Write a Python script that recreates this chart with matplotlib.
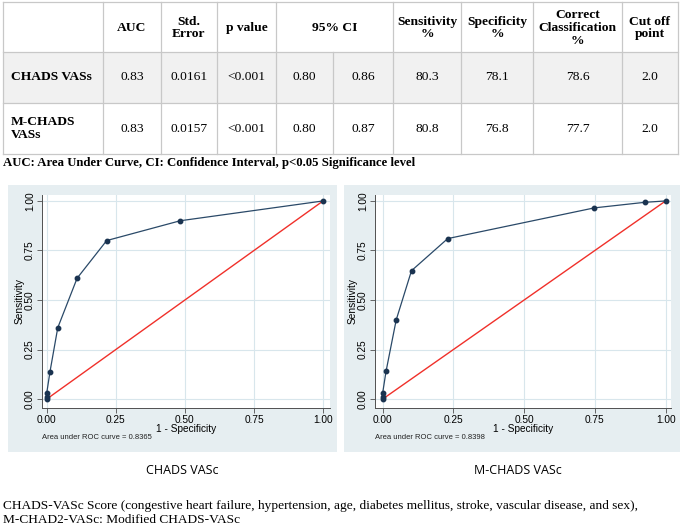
import numpy as np
import matplotlib
matplotlib.use("Agg")
import matplotlib.pyplot as plt
from matplotlib.patches import Rectangle

# ---- table data ----
header = ["", "AUC", "Std.\nError", "p value", "95% CI", "", "Sensitivity\n%",
          "Specificity\n%", "Correct\nClassification\n%", "Cut off\npoint"]
row_names = ["CHADS VASs", "M-CHADS\nVASs"]
auc = ["0.83", "0.83"]
std_err = ["0.0161", "0.0157"]
p_val = ["<0.001", "<0.001"]
ci_low = ["0.80", "0.80"]
ci_high = ["0.86", "0.87"]
sens = ["80.3", "80.8"]
spec = ["78.1", "76.8"]
correct = ["78.6", "77.7"]
cutoff = ["2.0", "2.0"]

footnote = "AUC: Area Under Curve, CI: Confidence Interval, p<0.05 Significance level"
caption = ("CHADS-VASc Score (congestive heart failure, hypertension, age, diabetes mellitus, "
           "stroke, vascular disease, and sex),\nM-CHAD2-VASc: Modified CHADS-VASc")

# ---- ROC data ----
chads_fpr = [0.0, 0.0, 0.0, 0.012, 0.040, 0.110, 0.217, 0.483, 1.0]
chads_tpr = [0.0, 0.008, 0.029, 0.139, 0.360, 0.610, 0.800, 0.900, 1.0]
chads_auc = "0.8365"

mchads_fpr = [0.0, 0.0, 0.0, 0.012, 0.048, 0.102, 0.230, 0.748, 0.926, 1.0]
mchads_tpr = [0.0, 0.010, 0.030, 0.140, 0.400, 0.648, 0.810, 0.965, 0.993, 1.0]
mchads_auc = "0.8398"

W, H = 685, 529
fig = plt.figure(figsize=(W / 100, H / 100), dpi=100)
bg = fig.add_axes([0, 0, 1, 1])
bg.set_xlim(0, W)
bg.set_ylim(H, 0)
bg.axis("off")

serif = "Liberation Serif"
sans = "Liberation Sans"

# table geometry (pixels)
col_x = [3, 103, 161, 217, 276, 333, 393, 461, 533, 622, 678]
row_y = [2, 52, 103, 154]
line_c = "#c8c8c8"

bg.add_patch(Rectangle((col_x[0], row_y[1]), col_x[-1] - col_x[0], row_y[2] - row_y[1],
                       facecolor="#f1f1f1", edgecolor="none", zorder=0))
for y in row_y:
    bg.plot([col_x[0], col_x[-1]], [y, y], color=line_c, lw=0.9)
for i, x in enumerate(col_x):
    if i == 5:
        bg.plot([x, x], [row_y[1], row_y[-1]], color=line_c, lw=0.9)
    else:
        bg.plot([x, x], [row_y[0], row_y[-1]], color=line_c, lw=0.9)

hy = (row_y[0] + row_y[1]) / 2 + 1
for i, t in enumerate(header):
    if not t:
        continue
    if i == 4:
        cx = (col_x[4] + col_x[6]) / 2
    else:
        cx = (col_x[i] + col_x[i + 1]) / 2
    bg.text(cx, hy, t, ha="center", va="center", fontsize=9.7, fontweight="bold",
            family=serif, linespacing=1.1)

cols = [auc, std_err, p_val, ci_low, ci_high, sens, spec, correct, cutoff]
for r in range(2):
    cy = (row_y[r + 1] + row_y[r + 2]) / 2
    bg.text(col_x[0] + 8, cy, row_names[r], ha="left", va="center", fontsize=9.7,
            fontweight="bold", family=serif, linespacing=1.15)
    for c, vals in enumerate(cols):
        cx = (col_x[c + 1] + col_x[c + 2]) / 2
        bg.text(cx, cy, vals[r], ha="center", va="center", fontsize=9.7, family=serif)

bg.text(3, 163, footnote, ha="left", va="center", fontsize=9.2, fontweight="bold", family=serif)
bg.text(3, 513, caption, ha="left", va="center", fontsize=9.6, family=serif, linespacing=1.15)

# grey graph regions
panel_c = "#e6eef1"
bg.add_patch(Rectangle((8, 185), 329, 267, facecolor=panel_c, edgecolor="none"))
bg.add_patch(Rectangle((344, 185), 336, 267, facecolor=panel_c, edgecolor="none"))
bg.text(182, 470, "CHADS VASc", ha="center", va="center", fontsize=9, family="Open Sans")
bg.text(518, 470, "M-CHADS VASc", ha="center", va="center", fontsize=9, family="Open Sans")


def roc_panel(rect, fpr, tpr, auc_txt, xlim):
    ax = fig.add_axes(rect)
    ax.set_facecolor("white")
    ax.set_xlim(*xlim)
    ax.set_ylim(-0.045, 1.03)
    ticks = [0, 0.25, 0.5, 0.75, 1.0]
    ax.set_xticks(ticks)
    ax.set_yticks(ticks)
    ax.set_xticklabels(["%.2f" % t for t in ticks], fontsize=7.3, family=sans)
    ax.set_yticklabels(["%.2f" % t for t in ticks], fontsize=7.3, family=sans,
                       rotation=90, va="center")
    ax.grid(True, color="#d8e6ec", lw=0.8)
    ax.set_axisbelow(True)
    for s in ["top", "right"]:
        ax.spines[s].set_visible(False)
    for s in ["left", "bottom"]:
        ax.spines[s].set_color("#505050")
        ax.spines[s].set_linewidth(0.7)
    ax.tick_params(length=3.5, width=0.6, color="#505050", pad=1.5)
    ax.plot([0, 1], [0, 1], color="#f0302a", lw=1.0, zorder=2)
    ax.plot(fpr, tpr, color="#2a4968", lw=0.9, marker="o", ms=3.2,
            mfc="#1a3350", mec="#1a3350", zorder=3)
    ax.set_xlabel("1 - Specificity", fontsize=7.3, family=sans, labelpad=-1)
    ax.set_ylabel("Sensitivity", fontsize=7.3, family=sans, labelpad=0)
    ax.text(0.0, -0.14, "Area under ROC curve = " + auc_txt, transform=ax.transAxes,
            fontsize=5.5, family=sans, ha="left", va="center", color="#222222")
    return ax


roc_panel([42 / W, 1 - 408 / H, 288 / W, 213 / H], chads_fpr, chads_tpr, chads_auc,
          (-0.017, 1.025))
roc_panel([375 / W, 1 - 408 / H, 296 / W, 213 / H], mchads_fpr, mchads_tpr, mchads_auc,
          (-0.027, 1.019))

fig.savefig("out.png", dpi=100)
